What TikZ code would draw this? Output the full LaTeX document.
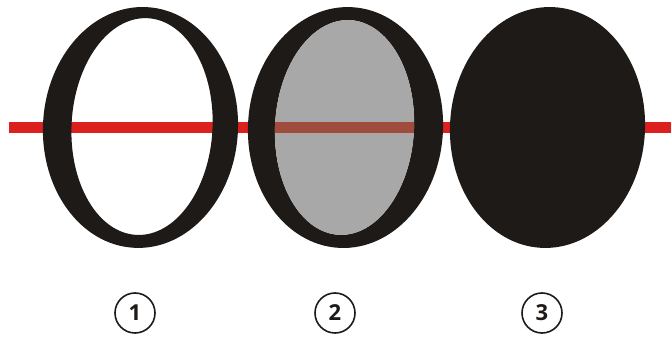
\documentclass[tikz,border=0pt]{standalone}
\usepackage{fontspec}
\newfontfamily\numfont{Open Sans}
\definecolor{oblack}{RGB}{30,26,23}
\definecolor{ogray}{RGB}{168,168,168}
\definecolor{ored}{RGB}{220,32,30}
\definecolor{obrown}{RGB}{160,76,60}
\tikzset{
  redline/.style={draw=ored, line width=10.5pt},
  brownline/.style={draw=obrown, line width=10.5pt},
  glyph/.style={fill=oblack, even odd rule},
  numcirc/.style={circle, draw=oblack, line width=1.6pt, minimum size=40pt, inner sep=0pt,
    font=\numfont\bfseries\fontsize{22}{22}\selectfont, text=oblack}
}
\begin{document}
\begin{tikzpicture}[x=1pt,y=1pt]
\useasboundingbox (0,0) rectangle (671,339);
\fill[white] (0,0) rectangle (671,339);
\coordinate (L) at (9,211.5);
\coordinate (R) at (671,211.5);
\draw[redline] (L) -- (R);
% O 1
\fill[glyph, rotate around={-3:(141,212)}] (140.5,211.5) ellipse (97.5 and 120.5) (142,212.5) ellipse (70.5 and 108.5);
% O 2
\fill[glyph, rotate around={-3:(345,211.5)}] (345.5,211.5) ellipse (97.5 and 120.5) (344.5,211.5) ellipse (69.5 and 107.5);
\fill[ogray, rotate around={-3:(345,211.5)}] (344.5,211.5) ellipse (69.5 and 107.5);
\begin{scope}
  \clip[rotate around={-3:(345,211.5)}] (344.5,211.5) ellipse (69.5 and 107.5);
  \draw[brownline] (L) -- (R);
\end{scope}
% O 3
\fill[oblack, rotate around={-3:(547.5,211.5)}] (547.5,211.5) ellipse (97.5 and 120.5);
% numbers
\node[numcirc] (n1) at (135,26) {1};
\node[numcirc] (n2) at (335,26) {2};
\node[numcirc] (n3) at (542,26) {3};
\end{tikzpicture}
\end{document}
